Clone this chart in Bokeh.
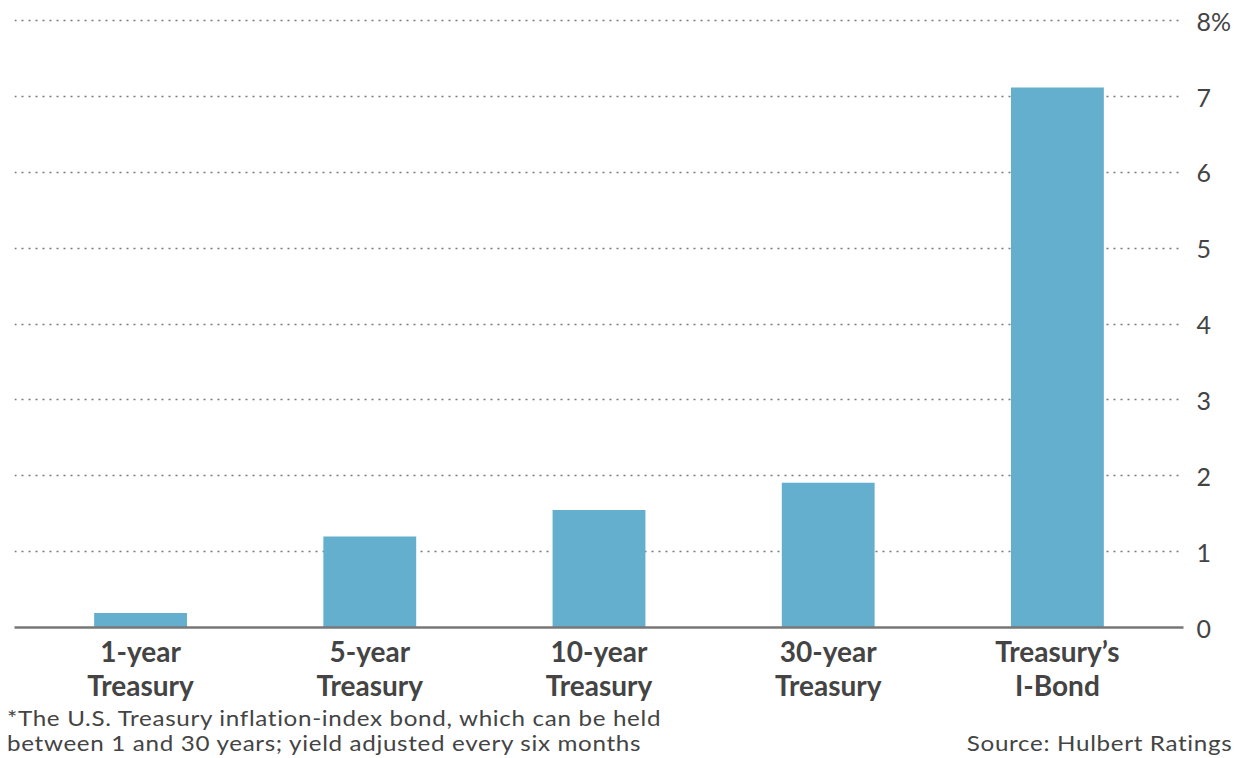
from bokeh.plotting import figure
from bokeh.models import FactorRange, Range1d, FixedTicker, ColumnDataSource, Div
from bokeh.layouts import column
from bokeh.embed import file_html
from bokeh.resources import INLINE

categories = ["1-year\nTreasury", "5-year\nTreasury", "10-year\nTreasury", "30-year\nTreasury", "Treasury\u2019s\nI-Bond"]
yields = [0.19, 1.2, 1.55, 1.91, 7.12]
y_ticks = [0, 1, 2, 3, 4, 5, 6, 7, 8]
y_tick_labels = {8: "8%"}
footnote_1 = "*The U.S. Treasury inflation-index bond, which can be held"
footnote_2 = "between 1 and 30 years; yield adjusted every six months"
source_text = "Source: Hulbert Ratings"

FONT = "Lato"
BAR = "#63afcd"
TXT = "#444444"

src = ColumnDataSource(dict(cat=categories, val=yields))

p = figure(
    width=1240, height=705,
    x_range=FactorRange(*categories, range_padding=0.02),
    y_range=Range1d(0, 8.03),
    y_axis_location="right",
    output_backend="svg", toolbar_location=None,
    min_border_left=14, min_border_top=18, min_border_right=57, min_border_bottom=78,
    margin=0,
)
p.outline_line_color = None
p.background_fill_color = "white"

p.vbar(x="cat", top="val", width=0.405, source=src, color=BAR, line_color=None)

# grid
p.xgrid.grid_line_color = None
p.ygrid.ticker = FixedTicker(ticks=y_ticks)
p.ygrid.grid_line_color = "#7a7a7a"
p.ygrid.grid_line_width = 1.6
p.ygrid.grid_line_dash = "2 5"

# y axis (right)
ya = p.yaxis[0]
ya.ticker = FixedTicker(ticks=y_ticks)
ya.major_label_overrides = y_tick_labels
ya.axis_line_color = None
ya.major_tick_line_color = None
ya.minor_tick_line_color = None
ya.major_tick_out = 0
ya.major_tick_in = 0
ya.major_label_standoff = 13
ya.major_label_text_font = FONT
ya.major_label_text_font_size = "25px"
ya.major_label_text_color = TXT

# x axis
xa = p.xaxis[0]
xa.axis_line_color = "#777777"
xa.axis_line_width = 2.5
xa.major_tick_line_color = None
xa.major_tick_out = 0
xa.major_tick_in = 0
xa.major_label_standoff = 6
xa.major_label_text_font = FONT
xa.major_label_text_font_size = "28px"
xa.major_label_text_font_style = "bold"
xa.major_label_text_color = TXT
xa.major_label_text_line_height = 1.0

line_css = ("position:absolute;white-space:nowrap;height:24px;line-height:24px;"
            "font-size:22px;letter-spacing:0.6px;")
note_html = (
    '<div style="position:relative;width:1232px;height:52px;font-family:Lato;color:%s;">'
    '<div style="%sleft:7px;top:1px;transform:scaleX(1.1);transform-origin:left center;">%s</div>'
    '<div style="%sleft:7px;top:26px;transform:scaleX(1.1);transform-origin:left center;">%s</div>'
    '<div style="%sright:0;top:26px;transform:scaleX(1.1);transform-origin:right center;">%s</div>'
    '</div>' % (TXT, line_css, footnote_1, line_css, footnote_2, line_css, source_text)
)
notes = Div(text=note_html, width=1232, height=52, margin=0)

layout = column(p, notes, spacing=0, margin=0)

open("out.html", "w").write(file_html(layout, INLINE))
